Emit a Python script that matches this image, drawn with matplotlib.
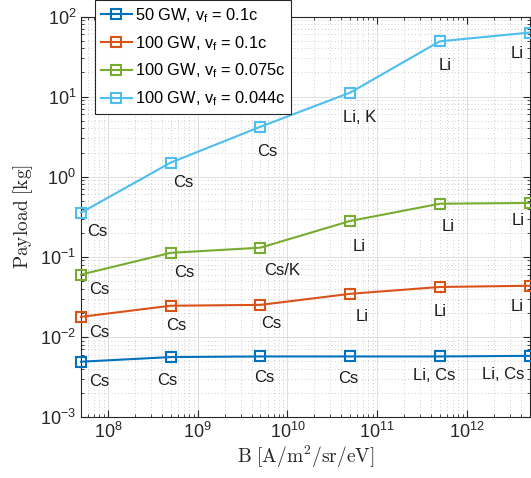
import numpy as np
import matplotlib.pyplot as plt
from matplotlib.ticker import LogLocator, NullFormatter

plt.rcParams['font.family'] = ['Liberation Sans', 'DejaVu Sans']
plt.rcParams['mathtext.fontset'] = 'custom'
plt.rcParams['mathtext.rm'] = 'Liberation Sans'
plt.rcParams['mathtext.it'] = 'Liberation Sans:italic'
plt.rcParams['mathtext.bf'] = 'Liberation Sans:bold'
plt.rcParams['axes.unicode_minus'] = False

# data
B = [5e7, 5e8, 5e9, 5e10, 5e11, 5e12]
payload_50_01 = [0.0049, 0.0056, 0.0057, 0.0057, 0.0057, 0.0058]
payload_100_01 = [0.0178, 0.0245, 0.0251, 0.0345, 0.042, 0.0435]
payload_100_0075 = [0.060, 0.112, 0.13, 0.28, 0.46, 0.47]
payload_100_0044 = [0.355, 1.5, 4.2, 11.2, 49, 63]

labels_50_01 = ['Cs', 'Cs', 'Cs', 'Cs', 'Li, Cs', 'Li, Cs']
labels_100_01 = ['Cs', 'Cs', 'Cs', 'Li', 'Li', 'Li']
labels_100_0075 = ['Cs', 'Cs', 'Cs/K', 'Li', 'Li', 'Li']
labels_100_0044 = ['Cs', 'Cs', 'Cs', 'Li, K', 'Li', 'Li']

legend_names = [r'50 GW, v$_\mathrm{f}$ = 0.1c', r'100 GW, v$_\mathrm{f}$ = 0.1c',
                r'100 GW, v$_\mathrm{f}$ = 0.075c', r'100 GW, v$_\mathrm{f}$ = 0.044c']
colors = ['#0072BD', '#D95319', '#77AC30', '#4DBEEE']

# label offsets in pixels (dx right, dy down)
offs_50_01 = [(18, 20), (-3, 23), (4, 21), (-2, 22), (-6, 19), (-26, 19)]
offs_100_01 = [(18, 16), (6, 20), (11, 19), (12, 23), (0, 25), (-12, 21)]
offs_100_0075 = [(18, 15), (14, 20), (22, 23), (9, 26), (8, 23), (-11, 18)]
offs_100_0044 = [(16, 19), (13, 20), (7, 25), (10, 25), (5, 24), (-12, 21)]

fig = plt.figure(figsize=(5.31, 4.78), dpi=100)
ax = fig.add_axes([81 / 531, 61 / 478, 448.5 / 531, 400.5 / 478])

series = [payload_50_01, payload_100_01, payload_100_0075, payload_100_0044]
all_labels = [labels_50_01, labels_100_01, labels_100_0075, labels_100_0044]
all_offs = [offs_50_01, offs_100_01, offs_100_0075, offs_100_0044]

for ys, name, c in zip(series, legend_names, colors):
    ax.plot(B, ys, color=c, lw=1.5, marker='s', ms=7, mfc='none', mec=c,
            mew=1.5, label=name, clip_on=False, zorder=3)

for ys, labs, offs in zip(series, all_labels, all_offs):
    for x, y, lab, (dx, dy) in zip(B, ys, labs, offs):
        ax.annotate(lab, (x, y), xytext=(dx, -dy), textcoords='offset pixels',
                    ha='center', va='center', fontsize=12, color='#1a1a1a')

ax.set_xscale('log')
ax.set_yscale('log')
ax.set_xlim(5e7, 5e12)
ax.set_ylim(1e-3, 1e2)

ax.yaxis.set_major_locator(LogLocator(base=10, numticks=10))
ax.yaxis.set_minor_locator(LogLocator(base=10, subs=np.arange(2, 10), numticks=20))
ax.xaxis.set_minor_locator(LogLocator(base=10, subs=np.arange(2, 10), numticks=20))
ax.xaxis.set_minor_formatter(NullFormatter())
ax.yaxis.set_minor_formatter(NullFormatter())

ax.grid(which='major', color='#dedede', lw=0.7, ls='-')
ax.grid(which='minor', color='#bdbdbd', lw=0.6, ls=(0, (1, 3)))
ax.set_axisbelow(True)

ax.tick_params(which='both', direction='in', top=True, right=True,
               colors='#262626', labelsize=13)
ax.tick_params(which='major', length=5, width=0.8)
ax.tick_params(which='minor', length=2.5, width=0.6)
for sp in ax.spines.values():
    sp.set_color('#262626')
    sp.set_linewidth(0.8)

ax.set_xlabel(r'$\mathrm{B\ [A/m^2/sr/eV]}$', fontsize=14,
              math_fontfamily='cm', color='#262626', labelpad=1)
ax.set_ylabel(r'$\mathrm{Payload\ [kg]}$', fontsize=14,
              math_fontfamily='cm', color='#262626', labelpad=4)

leg = ax.legend(loc='upper left', bbox_to_anchor=(0.031, 1.04), borderaxespad=0,
                fontsize=11.8, frameon=True, fancybox=False, framealpha=1,
                edgecolor='#262626', handlelength=1.9, handletextpad=0.2,
                labelspacing=0.55, borderpad=0.35)
leg.get_frame().set_linewidth(0.8)

fig.savefig('out.png', dpi=100)
